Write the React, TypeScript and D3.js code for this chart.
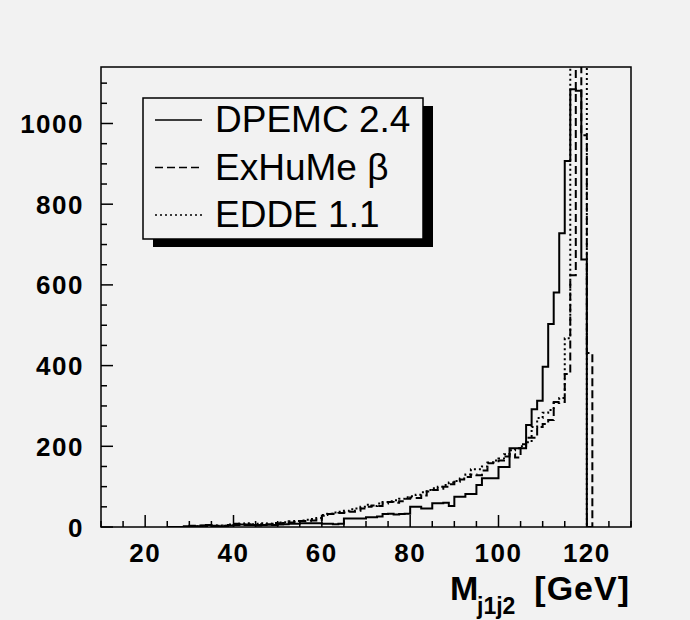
import React from 'react';
import * as d3 from 'd3';

const BIN_LOW = 25;
const BIN_WIDTH = 1.25;

const dpemc = [
  0, 0, 0, 2, 3, 2, 4, 5, 3, 2, 2, 4, 5, 6, 6, 5, 4, 5, 6, 5,
  6, 7, 8, 8, 9, 9, 9, 9, 8, 8, 7, 8, 21, 21, 21, 21, 24, 24, 26, 32,
  33, 31, 32, 33, 50, 50, 46, 46, 59, 59, 60, 52, 75, 75, 82, 82, 104, 121, 121, 121,
  149, 149, 195, 195, 195, 253, 292, 313, 397, 503, 581, 728, 907, 1085, 1081, 663, 0,
];
const exhume = [
  0, 0, 0, 0, 2, 0, 3, 2, 2, 3, 3, 5, 8, 6, 5, 6, 5, 7, 6, 8,
  9, 10, 11, 13, 15, 14, 16, 18, 28, 32, 33, 35, 36, 38, 40, 46, 50, 53, 52, 58,
  62, 60, 64, 70, 73, 72, 78, 88, 92, 95, 100, 106, 112, 118, 124, 130, 128, 140, 158, 160,
  165, 175, 180, 172, 205, 221, 221, 248, 255, 265, 310, 310, 379, 624, 1300, 971, 431,
];
const edde = [
  0, 0, 0, 0, 0, 2, 2, 3, 3, 4, 3, 6, 7, 8, 9, 7, 8, 9, 8, 10,
  11, 12, 14, 15, 16, 18, 20, 22, 30, 33, 36, 38, 40, 44, 46, 50, 55, 52, 58, 62,
  64, 66, 70, 74, 76, 80, 86, 92, 96, 100, 104, 110, 114, 120, 130, 143, 143, 150, 160, 165,
  170, 180, 190, 195, 200, 210, 248, 270, 283, 290, 307, 320, 468, 1250, 1250, 1250, 0,
];

const xTicks = [20, 40, 60, 80, 100, 120];
const yTicks = [0, 200, 400, 600, 800, 1000];
const legendLabels = ['DPEMC 2.4', 'ExHuMe \u03b2', 'EDDE 1.1'];
const dashes = ['none', '8,4', '2,3'];

const W = 690, H = 620;
const M = { left: 101, right: 631, top: 67, bottom: 527 };
const BG = '#f2f2f2';

export default function App() {
  const x = d3.scaleLinear().domain([10, 130]).range([M.left, M.right]);
  const y = d3.scaleLinear().domain([0, 1140]).range([M.bottom, M.top]);

  const stepPath = (vals: number[]) => {
    const p = d3.path();
    p.moveTo(x(BIN_LOW), y(0));
    vals.forEach((v, i) => {
      const x0 = x(BIN_LOW + i * BIN_WIDTH);
      const x1 = x(BIN_LOW + (i + 1) * BIN_WIDTH);
      p.lineTo(x0, y(v));
      p.lineTo(x1, y(v));
    });
    p.lineTo(x(BIN_LOW + vals.length * BIN_WIDTH), y(0));
    return p.toString();
  };

  const series = [dpemc, exhume, edde];
  const xMinor = d3.range(10, 131, 5).filter((v) => v % 20 !== 0);
  const yMinor = d3.range(0, 1141, 50).filter((v) => v % 200 !== 0);

  const lg = { x: 143, y: 98, w: 280, h: 141 };

  return (
    <svg width={W} height={H} style={{ position: 'absolute', left: 0, top: 0, background: BG }}
      fontFamily="'Liberation Sans', Arial, Helvetica, sans-serif">
      <rect x={0} y={0} width={W} height={H} fill={BG} />
      <defs>
        <clipPath id="plotclip">
          <rect x={M.left} y={M.top} width={M.right - M.left} height={M.bottom - M.top} />
        </clipPath>
      </defs>
      <g clipPath="url(#plotclip)">
        {series.map((s, i) => (
          <path key={i} d={stepPath(s)} fill="none" stroke="#000" strokeWidth={2}
            strokeDasharray={dashes[i]} />
        ))}
      </g>
      <rect x={M.left} y={M.top} width={M.right - M.left} height={M.bottom - M.top}
        fill="none" stroke="#000" strokeWidth={1.5} />
      {xTicks.map((t) => (
        <line key={'xt' + t} x1={x(t)} x2={x(t)} y1={M.bottom} y2={M.bottom - 12} stroke="#000" strokeWidth={1.5} />
      ))}
      {xMinor.map((t) => (
        <line key={'xm' + t} x1={x(t)} x2={x(t)} y1={M.bottom} y2={M.bottom - 6} stroke="#000" strokeWidth={1.5} />
      ))}
      {xTicks.map((t) => (
        <text key={'xl' + t} x={x(t)} y={562} textAnchor="middle" fontSize={26} fontWeight="bold"
          letterSpacing={1.5}>{t}</text>
      ))}
      {yTicks.map((t) => (
        <line key={'yt' + t} x1={M.left} x2={M.left + 12} y1={y(t)} y2={y(t)} stroke="#000" strokeWidth={1.5} />
      ))}
      {yMinor.map((t) => (
        <line key={'ym' + t} x1={M.left} x2={M.left + 6} y1={y(t)} y2={y(t)} stroke="#000" strokeWidth={1.5} />
      ))}
      {yTicks.map((t) => (
        <text key={'yl' + t} x={84} y={y(t) + 9.5} textAnchor="end" fontSize={26} fontWeight="bold"
          letterSpacing={1.5}>{t}</text>
      ))}
      <text x={450} y={600} fontSize={34} fontWeight="bold">M</text>
      <text x={477} y={614} fontSize={23} fontWeight="bold">j1j2</text>
      <text x={630} y={600} fontSize={34} fontWeight="bold" textAnchor="end" letterSpacing={1}>[GeV]</text>
      <rect x={lg.x + 10} y={lg.y + 8} width={lg.w} height={lg.h} fill="#000" />
      <rect x={lg.x} y={lg.y} width={lg.w} height={lg.h} fill={BG} stroke="#000" strokeWidth={1.5} />
      {legendLabels.map((l, i) => (
        <g key={l}>
          <line x1={155} x2={202} y1={120 + i * 47.5} y2={120 + i * 47.5} stroke="#000" strokeWidth={1.5}
            strokeDasharray={dashes[i]} />
          <text x={215} y={132 + i * 47.5} fontSize={37}>{l}</text>
        </g>
      ))}
    </svg>
  );
}
